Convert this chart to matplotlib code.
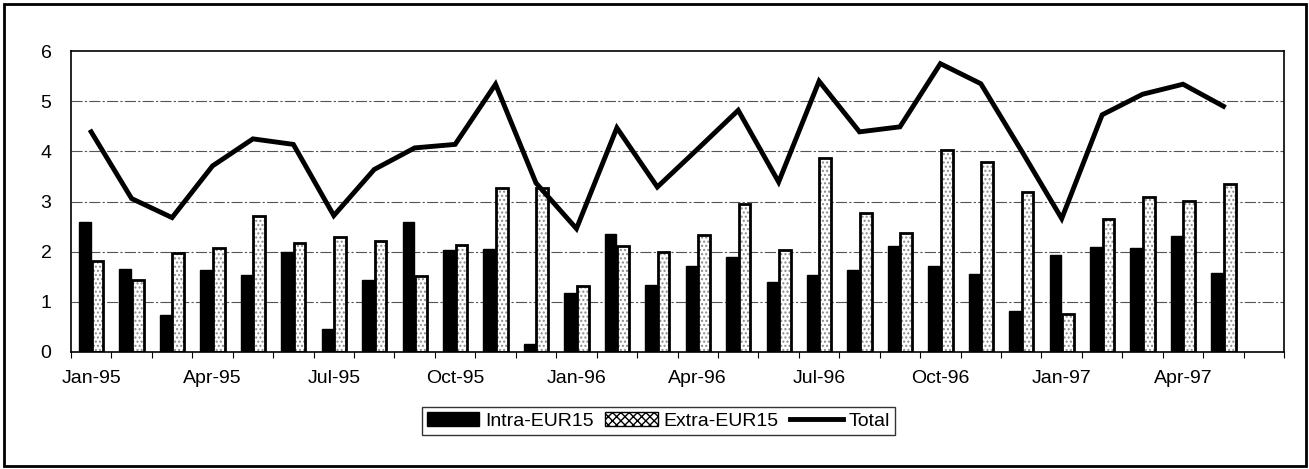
"""
Monthly trade: Intra-EUR15, Extra-EUR15 bars and Total line, Jan-95 to May-97
"""
import numpy as np
import matplotlib.pyplot as plt
from matplotlib.patches import Patch, Rectangle
from matplotlib.lines import Line2D

plt.rcParams['font.family'] = ['Liberation Sans', 'DejaVu Sans']
plt.rcParams['font.size'] = 14

# Data (Jun-97 slot is empty)
months = ['Jan-95', 'Feb-95', 'Mar-95', 'Apr-95', 'May-95', 'Jun-95',
          'Jul-95', 'Aug-95', 'Sep-95', 'Oct-95', 'Nov-95', 'Dec-95',
          'Jan-96', 'Feb-96', 'Mar-96', 'Apr-96', 'May-96', 'Jun-96',
          'Jul-96', 'Aug-96', 'Sep-96', 'Oct-96', 'Nov-96', 'Dec-96',
          'Jan-97', 'Feb-97', 'Mar-97', 'Apr-97', 'May-97', 'Jun-97']
intra = [2.59, 1.65, 0.74, 1.63, 1.53, 1.99, 0.45, 1.44, 2.59, 2.04, 2.06, 0.15,
         1.18, 2.36, 1.34, 1.71, 1.89, 1.40, 1.53, 1.63, 2.11, 1.72, 1.56, 0.82,
         1.93, 2.09, 2.07, 2.31, 1.58]
extra = [1.81, 1.43, 1.98, 2.07, 2.72, 2.18, 2.29, 2.22, 1.51, 2.13, 3.28, 3.27,
         1.31, 2.11, 1.99, 2.33, 2.96, 2.03, 3.87, 2.77, 2.38, 4.02, 3.79, 3.19,
         0.76, 2.66, 3.09, 3.01, 3.35]
total = [4.39, 3.06, 2.68, 3.71, 4.25, 4.14, 2.72, 3.64, 4.07, 4.14, 5.34, 3.37,
         2.46, 4.47, 3.29, 4.05, 4.82, 3.39, 5.40, 4.39, 4.49, 5.75, 5.35, 4.02,
         2.66, 4.73, 5.14, 5.34, 4.90]

x = np.arange(len(intra))
w = 0.29

fig = plt.figure(figsize=(13.09, 4.69), dpi=100)
ax = fig.add_axes([0.0542, 0.2495, 0.9268, 0.6415])

# grid behind everything
for yv in [1, 2, 3, 4, 5]:
    ax.axhline(yv, color='#555555', lw=0.8, ls=(0, (10, 2, 2, 2)), zorder=0)

ax.bar(x - 0.155, intra, w, color='black', edgecolor='black', lw=1, zorder=2)
# stippled fill, then black outline
ax.bar(x + 0.155, extra, w, color='white', edgecolor='#8a8a8a', hatch='....',
       lw=0, zorder=2)
ax.bar(x + 0.155, extra, w, fill=False, edgecolor='black', lw=2, zorder=3)

ax.plot(x, total, color='black', lw=3.5, solid_joinstyle='miter', zorder=4)

ax.set_xlim(-0.5, len(months) - 0.5)
ax.set_ylim(0, 6)
ax.set_yticks(range(7))
ax.tick_params(axis='y', length=0, pad=14)

# ticks on category boundaries, labels every third month
ax.set_xticks(np.arange(-0.5, len(months), 1.0))
ax.set_xticklabels([])
ax.set_xticks(np.arange(0, len(months), 3), minor=True)
ax.set_xticklabels(months[::3], minor=True)
ax.tick_params(axis='x', which='major', length=4, width=0.8, direction='out')
ax.tick_params(axis='x', which='minor', length=0, pad=13)

for s in ax.spines.values():
    s.set_linewidth(1.2)
    s.set_color('black')

handles = [Patch(facecolor='black', edgecolor='black'),
           Patch(facecolor='white', edgecolor='black', hatch='xxxx'),
           Line2D([0], [0], color='black', lw=3.5)]
leg = fig.legend(handles, ['Intra-EUR15', 'Extra-EUR15', 'Total'],
                 loc='center', bbox_to_anchor=(0.503, 0.102), ncol=3,
                 fontsize=14, frameon=True, fancybox=False, borderpad=0.25,
                 handlelength=2.7, handletextpad=0.3, columnspacing=0.6)
leg.get_frame().set_edgecolor('black')
leg.get_frame().set_linewidth(1)

# outer frame
fig.patches.append(Rectangle((4 / 1309, 3 / 469), 1302 / 1309, 462 / 469,
                             transform=fig.transFigure, fill=False,
                             edgecolor='black', lw=2))

fig.savefig('out.png', dpi=100, facecolor='white')
